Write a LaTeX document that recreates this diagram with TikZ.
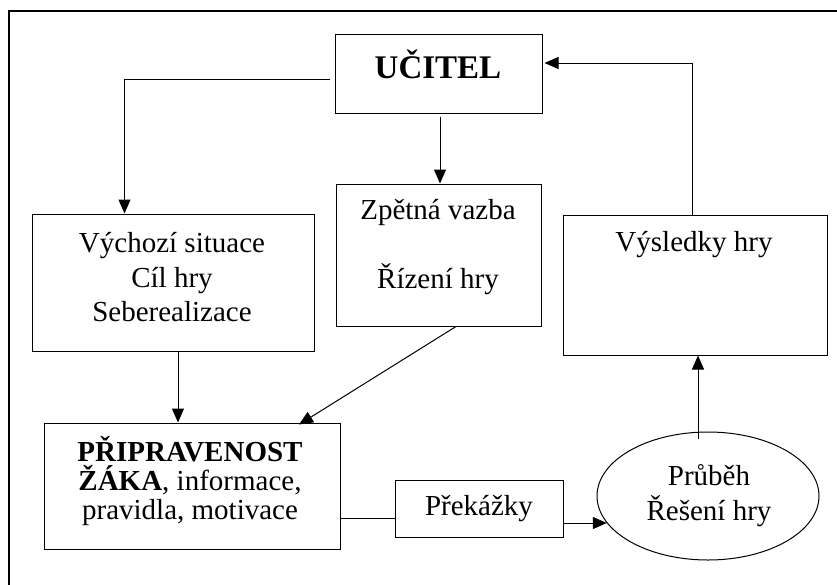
\documentclass[tikz,border=0pt]{standalone}
\usepackage{fontspec}
\setmainfont{Liberation Serif}
\usetikzlibrary{arrows.meta,shapes.geometric}
\begin{document}
\begin{tikzpicture}[x=1pt,y=-1pt,
  box/.style={draw,line width=1pt,inner sep=0pt},
  txt/.style={font=\fontsize{29}{34.5}\selectfont,align=center,inner sep=0pt},
  arr/.style={-{Triangle[length=14pt,width=12pt]},line width=1pt},
  ln/.style={line width=1pt}]
\useasboundingbox (0,0) rectangle (837,584);
% outer frame (only top and left edges visible)
\coordinate (fbl) at (9,590);
\coordinate (ftl) at (9,11);
\coordinate (ftr) at (845,11);
\draw[line width=2.4pt] (fbl) -- (ftl) -- (ftr);

% boxes
\node[box,minimum width=207pt,minimum height=79pt] (ucitel) at (438.5,73.5) {};
\node[box,minimum width=282pt,minimum height=137pt] (vych) at (173,282.5) {};
\node[box,minimum width=205pt,minimum height=142pt] (zpet) at (438.5,255) {};
\node[box,minimum width=264pt,minimum height=140pt] (vysl) at (695,285) {};
\node[box,minimum width=296pt,minimum height=126pt] (pripr) at (192,486) {};
\node[box,minimum width=168pt,minimum height=57pt] (prek) at (479,508.5) {};
\node[draw,ellipse,line width=1pt,inner sep=0pt,minimum width=222pt,minimum height=128pt] (prub) at (708,496) {};

% texts
\node[txt,font=\fontsize{33}{38}\selectfont\bfseries] (tucitel) at (438,64) {UČITEL};
\node[txt] (tvych) at (172,277.5) {Výchozí situace\\Cíl hry\\Seberealizace};
\node[txt] (tzpet) at (438,247.5) {Zpětná vazba\\[34.5pt]Řízení hry};
\node[txt] (tvysl) at (694,245) {Výsledky hry};
\node[txt,font=\fontsize{29}{29}\selectfont] (tpripr) at (190,480.5) {\textbf{PŘIPRAVENOST}\\\textbf{ŽÁKA}, informace,\\pravidla, motivace};
\node[txt] (tprek) at (479,509) {Překážky};
\node[txt] (tprub) at (709,495.5) {Průběh\\Řešení hry};

% connectors
\draw[arr] ([xshift=-5pt,yshift=-5.5pt]ucitel.west) -| ([xshift=93pt]vych.north west);
\draw[arr] ([xshift=1.5pt,yshift=-3pt]ucitel.south) -- ([xshift=1.5pt]ucitel.south |- zpet.north);
\draw[arr] ([xshift=-3pt]vysl.north) |- ([xshift=2pt,yshift=10.5pt]ucitel.east);
\draw[arr] ([xshift=5pt]vych.south) -- ([xshift=5pt]vych.south |- pripr.north);
\draw[arr] ([xshift=17.5pt]zpet.south) -- ([xshift=107pt,yshift=-2pt]pripr.north);
\draw[ln] ([yshift=-32pt]pripr.east) -- ([yshift=-32pt]pripr.east -| prek.west);
\draw[arr] ([yshift=-14.5pt]prek.east) -- ([yshift=-14.5pt]prek.east -| prub.195);
\draw[arr] ([xshift=-10pt,yshift=-7pt]prub.north) -- ([xshift=-10pt]prub.north |- vysl.south);
\end{tikzpicture}
\end{document}
